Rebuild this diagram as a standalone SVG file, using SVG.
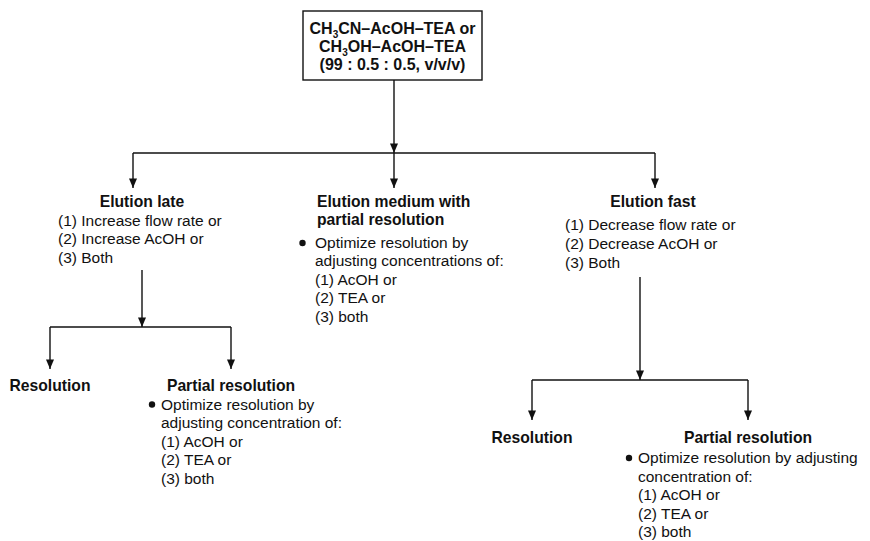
<svg xmlns="http://www.w3.org/2000/svg" width="870" height="541" viewBox="0 0 870 541">
<defs>
<marker id="ah" viewBox="0 0 12 10" refX="12" refY="5" markerWidth="12" markerHeight="8" markerUnits="userSpaceOnUse" orient="auto">
<path d="M0,0 L12,5 L0,10 Z" fill="#111"/>
</marker>
<style>
text{font-family:"Liberation Sans",Arial,sans-serif;fill:#111;}
.b{font-weight:bold;font-size:15.7px;}
.r{font-size:15.5px;}
.bx{font-weight:bold;font-size:16px;}
.sub{font-size:10px;}
.c{text-anchor:middle;}
.ln{stroke:#111;stroke-width:1.4;fill:none;}
.ar{stroke:#111;stroke-width:1.4;fill:none;marker-end:url(#ah);}
</style>
</defs>
<rect width="870" height="541" fill="#fff"/>
<g id="connectors">
<path class="ar" d="M394,80 V153"/>
<path class="ln" d="M133,153 H655"/>
<path class="ar" d="M133,153 V188"/>
<path class="ar" d="M394,153 V188"/>
<path class="ar" d="M655,153 V188"/>
<path class="ar" d="M142,270 V327"/>
<path class="ln" d="M50,327 H231"/>
<path class="ar" d="M50,327 V369"/>
<path class="ar" d="M231,327 V369"/>
<path class="ar" d="M640,277 V380"/>
<path class="ln" d="M532,380 H748"/>
<path class="ar" d="M532,380 V420"/>
<path class="ar" d="M748,380 V420"/>
</g>
<g id="start">
<rect x="303" y="11" width="179" height="69" fill="#fff" stroke="#111" stroke-width="1.4"/>
<text class="bx c" x="392.5" y="34">CH<tspan class="sub" baseline-shift="-4">3</tspan>CN–AcOH–TEA or</text>
<text class="bx c" x="392.5" y="52">CH<tspan class="sub" baseline-shift="-4">3</tspan>OH–AcOH–TEA</text>
<text class="bx c" x="392.5" y="70">(99 : 0.5 : 0.5, v/v/v)</text>
</g>
<g id="elution-late">
<text class="b c" x="142" y="207">Elution late</text>
<text class="r" x="58" y="225.5">(1) Increase flow rate or</text>
<text class="r" x="58" y="244">(2) Increase AcOH or</text>
<text class="r" x="58" y="262.5">(3) Both</text>
</g>
<g id="elution-medium">
<text class="b" x="317" y="207">Elution medium with</text>
<text class="b" x="317" y="225">partial resolution</text>
<circle cx="302.5" cy="243" r="3.2" fill="#111"/>
<text class="r" x="315" y="247.5">Optimize resolution by</text>
<text class="r" x="315" y="266">adjusting concentrations of:</text>
<text class="r" x="315" y="284.5">(1) AcOH or</text>
<text class="r" x="315" y="303">(2) TEA or</text>
<text class="r" x="315" y="321.5">(3) both</text>
</g>
<g id="elution-fast">
<text class="b c" x="653" y="207">Elution fast</text>
<text class="r" x="565" y="230">(1) Decrease flow rate or</text>
<text class="r" x="565" y="249">(2) Decrease AcOH or</text>
<text class="r" x="565" y="268">(3) Both</text>
</g>
<g id="resolution-left">
<text class="b c" x="50" y="391">Resolution</text>
</g>
<g id="partial-left">
<text class="b c" x="231" y="391">Partial resolution</text>
<circle cx="152" cy="404.5" r="3.2" fill="#111"/>
<text class="r" x="161" y="409.5">Optimize resolution by</text>
<text class="r" x="161" y="428">adjusting concentration of:</text>
<text class="r" x="161" y="446.5">(1) AcOH or</text>
<text class="r" x="161" y="465">(2) TEA or</text>
<text class="r" x="161" y="483.5">(3) both</text>
</g>
<g id="resolution-right">
<text class="b c" x="532" y="443">Resolution</text>
</g>
<g id="partial-right">
<text class="b c" x="748" y="443">Partial resolution</text>
<circle cx="629" cy="458" r="3.2" fill="#111"/>
<text class="r" x="638" y="463">Optimize resolution by adjusting</text>
<text class="r" x="638" y="481.5">concentration of:</text>
<text class="r" x="638" y="500">(1) AcOH or</text>
<text class="r" x="638" y="518.5">(2) TEA or</text>
<text class="r" x="638" y="537">(3) both</text>
</g>
</svg>
